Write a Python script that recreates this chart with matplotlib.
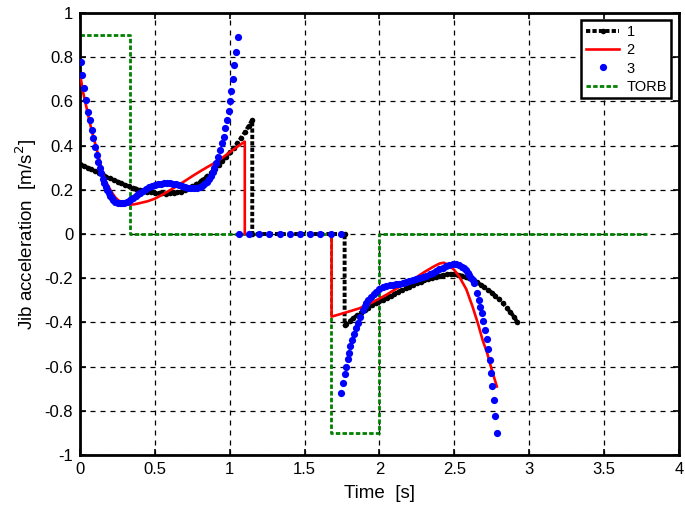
import numpy as np
import matplotlib
matplotlib.use("Agg")
import matplotlib.pyplot as plt

plt.rcParams['font.family'] = ['Liberation Sans', 'DejaVu Sans']

# ---- Series 1 (black) ----
t1 = [0.0, 0.025, 0.05, 0.075, 0.1, 0.125, 0.15, 0.175, 0.2, 0.225, 0.25, 0.275, 0.3,
      0.325, 0.35, 0.375, 0.4, 0.425, 0.45, 0.475, 0.5, 0.525, 0.55, 0.575, 0.6, 0.625,
      0.65, 0.675, 0.7, 0.725, 0.75, 0.775, 0.8, 0.825, 0.85, 0.875, 0.9, 0.925, 0.95,
      0.975, 1.0, 1.025, 1.05, 1.075, 1.1, 1.125, 1.15,
      1.15, 1.767,
      1.767, 1.775, 1.8, 1.825, 1.85, 1.875, 1.9, 1.925, 1.95, 1.975, 2.0, 2.025, 2.05,
      2.075, 2.1, 2.125, 2.15, 2.175, 2.2, 2.225, 2.25, 2.275, 2.3, 2.325, 2.35, 2.375,
      2.4, 2.425, 2.45, 2.475, 2.5, 2.525, 2.55, 2.575, 2.6, 2.625, 2.65, 2.675, 2.7,
      2.725, 2.75, 2.775, 2.8, 2.825, 2.85, 2.875, 2.9, 2.92]
a1 = [0.317, 0.308, 0.3, 0.292, 0.284, 0.276, 0.268, 0.26, 0.252, 0.244, 0.237, 0.229,
      0.222, 0.216, 0.21, 0.205, 0.2, 0.196, 0.192, 0.189, 0.187, 0.185, 0.184, 0.183,
      0.184, 0.186, 0.188, 0.192, 0.198, 0.206, 0.215, 0.225, 0.237, 0.25, 0.263, 0.278,
      0.295, 0.312, 0.33, 0.35, 0.37, 0.39, 0.41, 0.435, 0.46, 0.488, 0.516,
      0.0, 0.0,
      -0.412, -0.408, -0.395, -0.381, -0.368, -0.356, -0.345, -0.333, -0.322, -0.313,
      -0.305, -0.297, -0.289, -0.28, -0.27, -0.261, -0.253, -0.245, -0.238, -0.23,
      -0.223, -0.216, -0.21, -0.204, -0.199, -0.194, -0.19, -0.186, -0.183, -0.181,
      -0.181, -0.184, -0.188, -0.193, -0.2, -0.209, -0.218, -0.229, -0.24, -0.252,
      -0.265, -0.28, -0.295, -0.313, -0.333, -0.354, -0.375, -0.4]

# ---- Series 2 (red) ----
t2 = [0.0, 0.02, 0.04, 0.056, 0.08, 0.1, 0.12, 0.145, 0.17, 0.19, 0.21, 0.235, 0.26,
      0.28, 0.30, 0.33, 0.36, 0.40, 0.45, 0.50, 0.55, 0.60, 0.65, 0.70, 0.75, 0.80,
      0.85, 0.90, 0.95, 1.00, 1.05, 1.10, 1.10,
      np.nan,
      1.68, 1.68, 1.75, 1.80, 1.867, 1.95, 2.044, 2.13, 2.22, 2.30, 2.36, 2.40, 2.43,
      2.46, 2.50, 2.533, 2.58, 2.622, 2.66, 2.689, 2.72, 2.744, 2.784]
a2 = [0.72, 0.64, 0.58, 0.53, 0.46, 0.41, 0.36, 0.29, 0.24, 0.214, 0.19, 0.165, 0.15,
      0.143, 0.138, 0.133, 0.134, 0.14, 0.148, 0.16, 0.178, 0.198, 0.218, 0.24, 0.262,
      0.283, 0.303, 0.322, 0.345, 0.37, 0.395, 0.418, 0.0,
      np.nan,
      0.0, -0.374, -0.36, -0.35, -0.336, -0.31, -0.276, -0.24, -0.208, -0.172, -0.148,
      -0.134, -0.13, -0.14, -0.163, -0.193, -0.25, -0.329, -0.41, -0.48, -0.54, -0.6,
      -0.69]

# ---- Series 3 (blue dots) ----
t3 = [0.005, 0.012, 0.025, 0.037, 0.052, 0.064, 0.076, 0.088, 0.1, 0.111, 0.121, 0.13,
      0.14, 0.15, 0.16, 0.17, 0.18, 0.19, 0.2, 0.21, 0.22, 0.235, 0.25, 0.265, 0.28,
      0.295, 0.31, 0.325, 0.34, 0.355, 0.37, 0.385, 0.40, 0.42, 0.44, 0.46, 0.48, 0.50,
      0.52, 0.54, 0.56, 0.58, 0.60, 0.62, 0.64, 0.66, 0.68, 0.70, 0.72, 0.74, 0.76,
      0.78, 0.80, 0.815, 0.83, 0.845, 0.86, 0.873, 0.885, 0.897, 0.907, 0.92, 0.936,
      0.947, 0.958, 0.969, 0.982, 0.994, 1.0, 1.01, 1.02, 1.031, 1.043, 1.055,
      1.06, 1.125, 1.195, 1.262, 1.333, 1.40, 1.467, 1.535, 1.605, 1.678, 1.744,
      1.744, 1.756, 1.767, 1.778, 1.789, 1.796, 1.804, 1.816, 1.827, 1.84, 1.856, 1.871,
      1.889, 1.90, 1.911, 1.925, 1.944, 1.96, 1.978, 2.0, 2.022, 2.045, 2.07, 2.09,
      2.11, 2.13, 2.155, 2.178, 2.2, 2.222, 2.245, 2.267, 2.29, 2.31, 2.335, 2.356,
      2.38, 2.40, 2.425, 2.444, 2.465, 2.49, 2.511, 2.53, 2.55, 2.565, 2.578, 2.59,
      2.60, 2.611, 2.622, 2.633, 2.649, 2.662, 2.673, 2.684, 2.693, 2.704, 2.716,
      2.727, 2.738, 2.747, 2.751, 2.762, 2.773, 2.784]
a3 = [0.78, 0.72, 0.66, 0.606, 0.553, 0.516, 0.47, 0.433, 0.395, 0.357, 0.327, 0.3,
      0.274, 0.25, 0.232, 0.214, 0.199, 0.185, 0.173, 0.163, 0.155, 0.147, 0.142, 0.139,
      0.139, 0.141, 0.145, 0.151, 0.158, 0.165, 0.172, 0.18, 0.187, 0.196, 0.204, 0.211,
      0.216, 0.221, 0.224, 0.227, 0.229, 0.23, 0.23, 0.228, 0.225, 0.221, 0.217, 0.213,
      0.21, 0.208, 0.208, 0.21, 0.214, 0.219, 0.226, 0.236, 0.248, 0.262, 0.28, 0.3,
      0.32, 0.35, 0.38, 0.41, 0.44, 0.478, 0.516, 0.558, 0.6, 0.648, 0.7, 0.765, 0.825,
      0.893,
      0.0, 0.0, 0.0, 0.0, 0.0, 0.0, 0.0, 0.0, 0.0, 0.0, 0.0,
      -0.718, -0.676, -0.633, -0.6, -0.567, -0.537, -0.507, -0.48, -0.452, -0.427,
      -0.401, -0.374, -0.344, -0.328, -0.314, -0.3, -0.284, -0.272, -0.261, -0.25,
      -0.24, -0.235, -0.232, -0.23, -0.228, -0.225, -0.221, -0.216, -0.212, -0.208,
      -0.204, -0.2, -0.195, -0.189, -0.183, -0.177, -0.168, -0.16, -0.152, -0.146,
      -0.141, -0.137, -0.136, -0.14, -0.148, -0.155, -0.163, -0.175, -0.186, -0.197,
      -0.208, -0.223, -0.268, -0.299, -0.329, -0.359, -0.392, -0.434, -0.475, -0.52,
      -0.57, -0.627, -0.688, -0.751, -0.822, -0.899]

# ---- TORB (green) ----
t_torb = [0.0, 0.333, 0.333, 1.673, 1.673, 2.0, 2.0, 3.79]
a_torb = [0.9, 0.9, 0.0, 0.0, -0.9, -0.9, 0.0, 0.0]

legend_labels = ['1', '2', '3', 'TORB']
x_ticks = [0, 0.5, 1, 1.5, 2, 2.5, 3, 3.5, 4]
y_ticks = [-1, -0.8, -0.6, -0.4, -0.2, 0, 0.2, 0.4, 0.6, 0.8, 1]

fig = plt.figure(figsize=(6.85, 5.2), dpi=100)
ax = fig.add_axes([0.117, 0.125, 0.874, 0.85])

ax.plot(t1, a1, color='black', linestyle=(0, (1.1, 0.55)), linewidth=2.8,
        marker='o', markersize=4.0, markeredgewidth=0, label=legend_labels[0], zorder=3)
ax.plot(t2, a2, color='red', linewidth=1.9, label=legend_labels[1], zorder=4)
ax.plot(t3, a3, color='blue', linestyle='none', marker='o', markersize=5.2,
        markeredgewidth=0, label=legend_labels[2], zorder=5)
ax.plot(t_torb, a_torb, color=(0, 0.5, 0), linestyle=(0, (1.6, 0.8)), linewidth=2.0,
        label=legend_labels[3], zorder=2)

ax.set_xlim(0, 4)
ax.set_ylim(-1, 1)
ax.set_xticks(x_ticks)
ax.set_xticklabels(['0', '0.5', '1', '1.5', '2', '2.5', '3', '3.5', '4'])
ax.set_yticks(y_ticks)
ax.set_yticklabels(['-1', '-0.8', '-0.6', '-0.4', '-0.2', '0', '0.2', '0.4', '0.6', '0.8', '1'])
ax.grid(True, color='black', linestyle=(0, (4, 4)), linewidth=0.9)
ax.set_axisbelow(True)
ax.tick_params(direction='in', length=4, width=1.2, top=True, right=True,
               labelsize=12, pad=5)
for s in ax.spines.values():
    s.set_linewidth(2.0)

ax.set_xlabel('Time  [s]', fontsize=13.5, labelpad=6)
ax.set_ylabel('Jib acceleration  [m/s$^2$]', fontsize=13.5, labelpad=4)

leg = ax.legend(loc='upper right', fontsize=10.5, frameon=True, fancybox=False,
                handlelength=2.3, borderpad=0.3, labelspacing=0.3,
                handletextpad=0.5, borderaxespad=0.3, bbox_to_anchor=(0.995, 0.993))
leg.get_frame().set_edgecolor('black')
leg.get_frame().set_linewidth(1.8)
leg.get_frame().set_alpha(1)

fig.savefig('out.png', dpi=100)
